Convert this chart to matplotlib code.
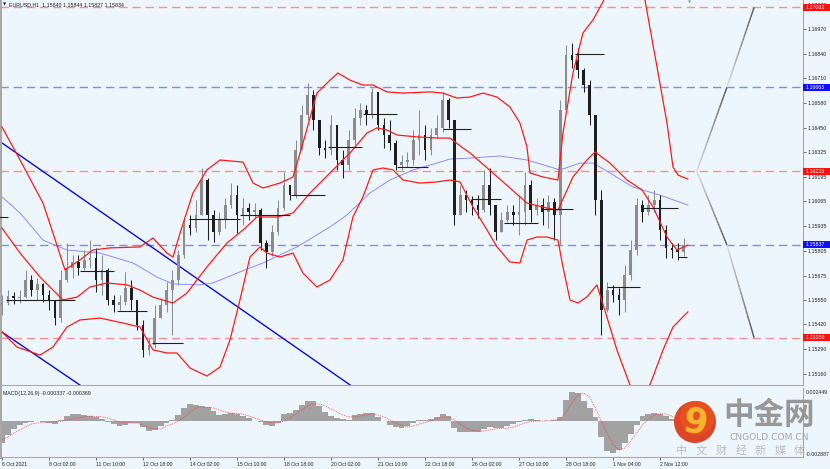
"""
EURUSD H1 chart with Bollinger bands, MA, daily closes and MACD panel
(MT4 style screenshot re-drawn with matplotlib).
"""

import numpy as np
import matplotlib
matplotlib.use("Agg")
import matplotlib.pyplot as plt
from matplotlib.collections import LineCollection
from matplotlib.patches import Circle, Rectangle
from matplotlib.transforms import blended_transform_factory

plt.rcParams["font.family"] = ["Liberation Sans", "DejaVu Sans"]

# ─────────────────────────────────────────────────────────────────────────────
# Data (x = hours since 6 Oct 2021 00:00, one drawn candle = 4 hours)
# ─────────────────────────────────────────────────────────────────────────────

BAR_STEP = 4
OPEN0 = 1.15522

CLOSE = [1.15532, 1.15569, 1.15558, 1.15564, 1.15653, 1.15600, 1.15632, 1.15574, 1.15548, 1.15453,
         1.15653, 1.15716, 1.15747, 1.15716, 1.15758, 1.15768, 1.15653, 1.15705, 1.15548, 1.15522,
         1.15537, 1.15611, 1.15548, 1.15417, 1.15286, 1.15312, 1.15453, 1.15522, 1.15600, 1.15653,
         1.15784, 1.15941, 1.15925, 1.15994, 1.16177, 1.15994, 1.15904, 1.15967, 1.16046, 1.16098,
         1.15994, 1.16030, 1.16009, 1.16020, 1.15847, 1.15800, 1.15904, 1.16030, 1.16151, 1.16098,
         1.16334, 1.16518, 1.16623, 1.16492, 1.16345, 1.16334, 1.16466, 1.16282, 1.16256, 1.16387,
         1.16502, 1.16544, 1.16518, 1.16639, 1.16466, 1.16413, 1.16371, 1.16256, 1.16271, 1.16282,
         1.16387, 1.16413, 1.16334, 1.16413, 1.16450, 1.16597, 1.16492, 1.15994, 1.16098, 1.16072,
         1.16046, 1.16020, 1.16151, 1.16046, 1.15904, 1.15967, 1.16009, 1.15994, 1.16009, 1.16151,
         1.16020, 1.16046, 1.16009, 1.16062, 1.15994, 1.16544, 1.16833, 1.16806, 1.16754, 1.16675,
         1.16518, 1.16072, 1.15495, 1.15600, 1.15574, 1.15548, 1.15679, 1.15810, 1.16046, 1.16009,
         1.16046, 1.16072, 1.15915, 1.15821, 1.15810, 1.15800, 1.15834]

HIGH = [1.15574, 1.15600, 1.15590, 1.15600, 1.15705, 1.15679, 1.15663, 1.15637, 1.15600, 1.15548,
        1.15705, 1.15847, 1.15784, 1.15784, 1.15810, 1.15862, 1.15821, 1.15784, 1.15716, 1.15574,
        1.15574, 1.15695, 1.15653, 1.15522, 1.15443, 1.15349, 1.15522, 1.15558, 1.15642, 1.15705,
        1.15810, 1.15978, 1.15994, 1.16072, 1.16240, 1.16188, 1.16020, 1.16009, 1.16083, 1.16161,
        1.16151, 1.16083, 1.16056, 1.16056, 1.16030, 1.15862, 1.15941, 1.16072, 1.16219, 1.16151,
        1.16387, 1.16570, 1.16686, 1.16649, 1.16466, 1.16387, 1.16518, 1.16466, 1.16334, 1.16439,
        1.16555, 1.16581, 1.16570, 1.16660, 1.16639, 1.16502, 1.16492, 1.16387, 1.16308, 1.16324,
        1.16439, 1.16544, 1.16466, 1.16450, 1.16518, 1.16639, 1.16607, 1.16492, 1.16151, 1.16125,
        1.16093, 1.16098, 1.16230, 1.16240, 1.16046, 1.16009, 1.16046, 1.16046, 1.16098, 1.16219,
        1.16177, 1.16083, 1.16083, 1.16098, 1.16083, 1.16597, 1.16885, 1.16896, 1.16869, 1.16764,
        1.16701, 1.16518, 1.16125, 1.15642, 1.15627, 1.15611, 1.15731, 1.15862, 1.16083, 1.16072,
        1.16098, 1.16125, 1.16098, 1.15941, 1.15847, 1.15847, 1.15873]

LOW = [1.15469, 1.15522, 1.15527, 1.15532, 1.15558, 1.15569, 1.15548, 1.15537, 1.15495, 1.15417,
       1.15432, 1.15642, 1.15663, 1.15679, 1.15705, 1.15716, 1.15590, 1.15574, 1.15522, 1.15485,
       1.15495, 1.15522, 1.15495, 1.15390, 1.15249, 1.15259, 1.15296, 1.15485, 1.15485, 1.15363,
       1.15627, 1.15768, 1.15889, 1.15904, 1.15994, 1.15862, 1.15852, 1.15889, 1.15925, 1.16030,
       1.15899, 1.15941, 1.15967, 1.15978, 1.15810, 1.15716, 1.15779, 1.15889, 1.16020, 1.16072,
       1.16083, 1.16334, 1.16492, 1.16439, 1.16308, 1.16292, 1.16308, 1.16230, 1.16188, 1.16230,
       1.16361, 1.16466, 1.16466, 1.16502, 1.16439, 1.16345, 1.16334, 1.16230, 1.16230, 1.16245,
       1.16256, 1.16308, 1.16282, 1.16308, 1.16397, 1.16429, 1.16450, 1.15941, 1.16046, 1.16009,
       1.15994, 1.15978, 1.16009, 1.15994, 1.15862, 1.15904, 1.15957, 1.15941, 1.15889, 1.15941,
       1.15957, 1.15994, 1.15941, 1.15925, 1.15862, 1.15836, 1.16544, 1.16764, 1.16712, 1.16639,
       1.16466, 1.15994, 1.15363, 1.15485, 1.15537, 1.15469, 1.15485, 1.15653, 1.15784, 1.15957,
       1.15994, 1.16009, 1.15862, 1.15768, 1.15768, 1.15758, 1.15779]

# MACD values in units of 1e-4
MACD_HIST = [-16.8, -10.7, -6.1, -3.1, -1.5, -0.8, 0.0, -0.4, -1.5, -2.3,
             0.8, 3.8, 5.4, 5.4, 4.6, 3.8, 3.1, 1.5, -0.4, -2.3,
             -3.8, -3.1, -1.5, -1.5, -4.6, -7.7, -6.9, -3.8, -1.5, 0.8,
             4.6, 9.9, 13.0, 12.2, 11.5, 10.7, 7.7, 4.6, 5.4, 6.1,
             5.4, 3.8, 2.3, 0.0, -1.1, -2.7, -3.8, -1.5, 5.4, 6.1,
             8.4, 12.2, 15.3, 15.3, 11.5, 6.9, 3.8, 2.3, 1.5, 0.8,
             4.6, 5.4, 6.1, 6.1, 3.1, 0.0, -3.1, -4.6, -5.4, -3.8,
             -1.5, 0.8, 1.1, 1.5, 3.1, 5.4, 3.8, -5.4, -8.4, -8.4,
             -8.4, -8.4, -6.1, -4.6, -5.4, -5.4, -3.8, -2.3, -0.8, 0.8,
             1.5, 0.8, 0.0, 0.0, 0.8, 3.1, 16.1, 22.2, 21.4, 15.3,
             9.9, 3.1, -12.2, -23.0, -24.5, -22.2, -16.8, -9.9, -3.1, 3.8,
             5.4, 6.1, 5.4, 3.8, 1.5, -0.8, -3.4]

MACD_SIGNAL = [-14.5, -12.2, -9.2, -6.9, -4.6, -2.3, -1.5, -1.1, -0.8, -0.8,
               -0.4, 0.8, 1.5, 2.3, 3.1, 3.8, 3.4, 3.1, 2.3, 0.8,
               -0.8, -1.1, -1.5, -1.5, -3.1, -5.0, -6.1, -6.1, -3.8, -2.3,
               0.0, 3.1, 6.9, 9.9, 10.7, 10.3, 9.9, 8.4, 6.9, 6.1,
               5.7, 5.4, 3.8, 2.3, 0.8, -0.8, -1.5, -1.1, 0.0, 2.3,
               5.4, 8.4, 11.5, 13.0, 13.0, 11.5, 9.2, 6.9, 4.6, 3.1,
               3.1, 3.8, 4.6, 5.4, 4.6, 3.1, 0.8, -1.5, -3.4, -4.6,
               -3.8, -2.3, -1.1, 0.0, 1.9, 3.1, 2.7, 0.8, -2.3, -5.4,
               -6.9, -7.7, -7.7, -6.9, -6.1, -5.7, -5.4, -4.6, -3.1, -1.5,
               -0.4, 0.0, 0.0, 0.4, 0.8, 1.1, 6.9, 13.8, 19.9, 21.4,
               18.4, 9.9, 0.0, -9.9, -17.6, -22.2, -20.7, -15.3, -9.2, -3.1,
               1.5, 4.6, 5.4, 5.4, 3.8, 0.8, -2.7]

# Bollinger bands (read as knots along the curves)
UPPER_T = [0, 12.3, 27.9, 34.7, 42.9, 53.1, 61.9, 73.5, 93.9, 102.8, 112.3, 116.4, 121.2, 130.0,
           139.5, 148.4, 164.1, 170.9, 177.7, 189.2, 198.1, 204.9, 214.4, 223.3, 228.7, 236.9,
           245.7, 252.6, 262.1, 273.0, 291.4, 300.2, 309.7, 318.6, 327.4, 337.0, 345.8, 352.6,
           357.4, 359.4, 368.3, 378.5, 381.9, 388.7, 395.5, 402.3, 409.1, 417.3, 427.5, 434.3,
           437.7, 445.9, 452.7, 456.8, 460.2, 466.9]
UPPER_P = [1.16455, 1.16282, 1.16056, 1.15899, 1.15705, 1.15758, 1.15810, 1.15821, 1.15826, 1.15873,
           1.15794, 1.15773, 1.15899, 1.16109, 1.16230, 1.16282, 1.16271, 1.16161, 1.16135, 1.16161,
           1.16193, 1.16371, 1.16633, 1.16701, 1.16738, 1.16701, 1.16675, 1.16675, 1.16639, 1.16633,
           1.16639, 1.16633, 1.16607, 1.16612, 1.16633, 1.16612, 1.16560, 1.16476, 1.16350, 1.16214,
           1.16193, 1.16177, 1.16424, 1.16738, 1.16948, 1.17016, 1.17111, 1.17252, 1.17305, 1.17200,
           1.17121, 1.16770, 1.16476, 1.16245, 1.16203, 1.16182]

MID_T = [0, 12.3, 25.9, 41.5, 51.1, 59.9, 71.5, 85.1, 93.9, 102.8, 116.4, 125.9, 139.5, 153.2,
         164.1, 173.6, 187.2, 198.1, 209.7, 223.3, 236.9, 248.5, 255.3, 262.1, 268.9, 282.5,
         296.1, 305.0, 313.8, 318.6, 334.2, 357.4, 371.0, 378.5, 388.7, 398.2, 403.7, 413.9,
         425.5, 435.7, 443.2, 452.7, 459.5, 466.9]
MID_P = [1.15925, 1.15794, 1.15668, 1.15548, 1.15563, 1.15616, 1.15637, 1.15627, 1.15600, 1.15563,
         1.15532, 1.15584, 1.15721, 1.15847, 1.15915, 1.15983, 1.15983, 1.16004, 1.16109, 1.16214,
         1.16319, 1.16424, 1.16450, 1.16439, 1.16413, 1.16403, 1.16397, 1.16397, 1.16345, 1.16319,
         1.16214, 1.16056, 1.16030, 1.16020, 1.16193, 1.16282, 1.16324, 1.16266, 1.16177, 1.16125,
         1.16036, 1.15878, 1.15810, 1.15836]

LOWER_T = [0, 10.2, 25.9, 34.7, 44.2, 53.1, 66.7, 82.4, 93.9, 102.8, 112.3, 119.1, 128.0, 139.5,
           148.4, 155.2, 162.0, 168.8, 175.6, 180.4, 189.2, 198.1, 204.9, 214.4, 223.3, 232.1,
           238.9, 245.7, 252.6, 259.4, 266.2, 273.0, 284.5, 296.1, 305.0, 311.8, 320.6, 330.2,
           337.0, 345.8, 352.6, 357.4, 364.2, 371.0, 378.5, 381.9, 386.7, 392.1, 398.2, 405.0,
           411.8, 418.6, 427.5, 434.3, 441.1, 450.0, 456.8, 461.5, 466.9]
LOWER_P = [1.15380, 1.15301, 1.15259, 1.15301, 1.15406, 1.15443, 1.15453, 1.15427, 1.15406, 1.15286,
           1.15270, 1.15270, 1.15191, 1.15149, 1.15196, 1.15338, 1.15548, 1.15773, 1.15826, 1.15794,
           1.15773, 1.15794, 1.15689, 1.15616, 1.15653, 1.15758, 1.15983, 1.16088, 1.16230, 1.16240,
           1.16230, 1.16177, 1.16161, 1.16167, 1.16177, 1.16167, 1.16036, 1.15915, 1.15826, 1.15747,
           1.15742, 1.15862, 1.15878, 1.15878, 1.15862, 1.15721, 1.15548, 1.15532, 1.15564, 1.15627,
           1.15459, 1.15286, 1.15102, 1.15065, 1.15102, 1.15286, 1.15406, 1.15443, 1.15485]

# slow moving average (thin blue)
MA_T = [0, 12.3, 27.9, 44.2, 66.7, 89.2, 105.5, 116.4, 134.8, 143.6, 162.0, 177.7, 200.8, 223.3,
        234.9, 250.5, 264.1, 279.8, 296.1, 305.0, 318.6, 339.0, 357.4, 379.9, 393.5, 402.3,
        413.9, 429.5, 447.9, 466.9]
MA_P = [1.16088, 1.16004, 1.15862, 1.15810, 1.15794, 1.15742, 1.15668, 1.15632, 1.15627, 1.15637,
        1.15695, 1.15742, 1.15826, 1.15931, 1.15994, 1.16109, 1.16177, 1.16230, 1.16266, 1.16287,
        1.16292, 1.16303, 1.16282, 1.16230, 1.16266, 1.16266, 1.16214, 1.16140, 1.16098, 1.16046]

# daily close marks (start hour, end hour, price)
DAY_START = [-2, 3, 53, 78, 102, 127, 162, 197, 222, 246, 269, 300, 319, 342, 368, 390, 412, 436, 460]
DAY_END = [4, 50, 76, 99, 123, 162, 196, 220, 245, 269, 290, 319, 340, 365, 389, 410, 434, 460, 466]
DAY_CLOSE = [1.15983, 1.15548, 1.15700, 1.15490, 1.15322, 1.15973, 1.15994, 1.16098, 1.16350,
             1.16523, 1.16245, 1.16444, 1.16077, 1.15952, 1.16025, 1.16838, 1.15616, 1.16030,
             1.15773]

# drawn trend lines
TREND1_T = [-2, 237]
TREND1_P = [1.16382, 1.15102]
TREND2_T = [-2, 53]
TREND2_P = [1.15390, 1.15102]

# projection (gray) lines
PROJ_T = [473, 493.5, 512]
PROJ_UP = [1.16223, 1.16663, 1.17082]
PROJ_DN = [1.16223, 1.15837, 1.15350]

LEVELS = [1.17082, 1.16663, 1.16223, 1.15837, 1.15350]
LEVEL_KIND = ["r", "b", "r", "b", "r"]

PRICE_TICKS = [1.17095, 1.16970, 1.16840, 1.16710, 1.16580, 1.16450, 1.16325, 1.16195,
               1.16065, 1.15935, 1.15805, 1.15675, 1.15550, 1.15420, 1.15290, 1.15160]

TIME_TICKS = [0, 32, 64, 96, 128, 160, 192, 224, 256, 288, 320, 352, 384, 416, 448]
TIME_LABELS = ["6 Oct 2021", "8 Oct 02:00", "11 Oct 10:00", "12 Oct 18:00", "14 Oct 02:00",
               "15 Oct 10:00", "18 Oct 18:00", "20 Oct 02:00", "21 Oct 10:00", "22 Oct 18:00",
               "26 Oct 02:00", "27 Oct 10:00", "28 Oct 18:00", "1 Nov 04:00", "2 Nov 12:00"]

TITLE = "EURUSD,H1  1.15840 1.15844 1.15827 1.15834"
MACD_TITLE = "MACD(12,26,9) -0.000337 -0.000369"

# ─────────────────────────────────────────────────────────────────────────────
# Style
# ─────────────────────────────────────────────────────────────────────────────

W, H = 830, 469
BG = "#eef6fd"
FRAME = "#a8a8a8"
LEVEL_LINE = {"r": "#ff6e6e", "b": "#6262ff"}
LEVEL_BOX = {"r": "#ff1010", "b": "#1010ff"}
XLIM = (-1.36, 545.3)
PRICE_LIM = (1.15102, 1.17121)
MACD_LIM = (-27.5, 25.2)
FS = 3.8


def style_axes(ax):
    ax.set_facecolor(BG)
    for side, sp in ax.spines.items():
        sp.set_color(FRAME)
        sp.set_linewidth(0.8)
    ax.spines["left"].set_linewidth(2.2)
    ax.spines["top"].set_visible(False)
    ax.set_xlim(*XLIM)


def gradient_line(ax, t0, p0, t1, p1, n=24):
    ts = np.linspace(t0, t1, n + 1)
    ps = np.linspace(p0, p1, n + 1)
    segs = [[(ts[i], ps[i]), (ts[i + 1], ps[i + 1])] for i in range(n)]
    shade = np.linspace(0.85, 0.35, n)
    lc = LineCollection(segs, colors=[(s, s, s) for s in shade], linewidths=1.1, zorder=6)
    ax.add_collection(lc)


def draw_price(ax):
    style_axes(ax)
    ax.set_ylim(*PRICE_LIM)

    for lv, kind in zip(LEVELS, LEVEL_KIND):
        ax.axhline(lv, color=LEVEL_LINE[kind], lw=1.0, ls=(0, (6, 3.5)), alpha=0.75, zorder=1)

    for tt, pp in ((TREND1_T, TREND1_P), (TREND2_T, TREND2_P)):
        ax.plot(tt, pp, color="#0a0adc", lw=1.0, zorder=2)

    ax.plot(MA_T, MA_P, color="#8c8cff", lw=0.7, zorder=2)
    for tt, pp in ((UPPER_T, UPPER_P), (MID_T, MID_P), (LOWER_T, LOWER_P)):
        ax.plot(tt, pp, color="#ff1a1a", lw=0.9, zorder=4, solid_joinstyle="round")

    # candles
    close = np.array(CLOSE)
    opens = np.array([OPEN0] + CLOSE[:-1])
    t = np.arange(len(close)) * BAR_STEP
    hi = np.maximum(np.array(HIGH), np.maximum(opens, close))
    lo = np.minimum(np.array(LOW), np.minimum(opens, close))
    up = close >= opens
    cols = np.where(up, "#8c8c8c", "#1e1e1e")
    ax.vlines(t, lo, hi, colors=cols, lw=0.75, zorder=3)
    body = np.maximum(np.abs(close - opens), 0.00003)
    ax.bar(t, body, bottom=np.minimum(opens, close), width=1.8, color=cols,
           edgecolor="none", zorder=3)

    ax.hlines(DAY_CLOSE, DAY_START, DAY_END, colors="#202020", lw=0.8, zorder=5)

    for path in (PROJ_UP, PROJ_DN):
        for i in range(len(PROJ_T) - 1):
            gradient_line(ax, PROJ_T[i], path[i], PROJ_T[i + 1], path[i + 1])

    ax.set_xticks([])
    ax.yaxis.tick_right()
    ax.set_yticks(PRICE_TICKS)
    ax.set_yticklabels([f"{v:.5f}" for v in PRICE_TICKS])
    ax.tick_params(axis="y", length=2, width=0.5, pad=1.5, labelsize=FS,
                   colors="#303030", labelcolor="#202020")

    # coloured level tags on the price scale
    trans = blended_transform_factory(ax.transAxes, ax.transData)
    half = 3.4 * (PRICE_LIM[1] - PRICE_LIM[0]) / 385
    for lv, kind in zip(LEVELS, LEVEL_KIND):
        ax.add_patch(Rectangle((1.0, lv - half), 27 / 803, 2 * half, transform=trans,
                               fc=LEVEL_BOX[kind], ec="none", clip_on=False, zorder=20))
        ax.text(1.0 + 2.5 / 803, lv, f"{lv:.5f}", transform=trans, fontsize=FS,
                color="white", va="center", ha="left", clip_on=False, zorder=21)


def draw_macd(ax):
    style_axes(ax)
    ax.set_ylim(*MACD_LIM)
    t = np.arange(len(MACD_HIST)) * BAR_STEP
    ax.bar(t, MACD_HIST, width=BAR_STEP, color="#a2a2a2", edgecolor="none", zorder=2)
    ax.plot(t, MACD_SIGNAL, color="#ff3a3a", lw=0.6, ls=(0, (1, 1.2)), zorder=3)
    ax.set_yticks([])
    ax.set_xticks(TIME_TICKS)
    ax.set_xticklabels(TIME_LABELS)
    ax.tick_params(axis="x", length=2, width=0.5, pad=1.5, labelsize=FS - 0.1,
                   colors="#303030", labelcolor="#202020")
    for lbl in ax.get_xticklabels():
        lbl.set_ha("left")


def draw_watermark(fig):
    ov = fig.add_axes([0, 0, 1, 1], zorder=50)
    ov.set_xlim(0, W)
    ov.set_ylim(H, 0)
    ov.axis("off")
    ov.patch.set_alpha(0)
    ov.add_patch(Circle((695, 422), 21, fc="#dc3c1c", ec="none", alpha=0.95))
    ov.add_patch(Circle((697, 418), 17, fc="#e8521f", ec="none", alpha=0.9))
    ov.text(695, 423, "9", fontsize=25, fontweight="bold", color="#f8b630",
            ha="center", va="center", family="DejaVu Sans", rotation=-10)
    ov.text(769, 415, "中金网", fontsize=22, fontweight="bold", color="#8e8e8e",
            ha="center", va="center", family=["Noto Sans CJK SC", "DejaVu Sans"], alpha=0.9)
    ov.text(769, 438, "CNGOLD.COM.CN", fontsize=6.6, color="#a0a0a0",
            ha="center", va="center", family="DejaVu Sans", alpha=0.9)
    for i, ch in enumerate("中文财经新媒体"):
        ov.text(682 + 19.6 * i, 451, ch, fontsize=8, color="#b6b6b6", ha="center",
                va="center", family=["Noto Sans CJK SC", "DejaVu Sans"], alpha=0.9)


def main():
    fig = plt.figure(figsize=(W / 100, H / 100), dpi=100)
    fig.patch.set_facecolor(BG)

    ax = fig.add_axes([0, 1 - 385 / H, 803 / W, 385 / H])
    axm = fig.add_axes([0, 1 - 457 / H, 803 / W, (457 - 388) / H])
    draw_price(ax)
    draw_macd(axm)

    fig.text(3 / W, 1 - 4 / H, "▼", fontsize=3, color="#202020", va="center",
             family="DejaVu Sans")
    fig.text(9 / W, 1 - 4.5 / H, TITLE, fontsize=FS, color="#202020", va="center")
    fig.text(690 / W, 1 - 2 / H, "▼", fontsize=3, color="#909090", va="center",
             ha="center", family="DejaVu Sans")
    fig.text(3 / W, 1 - 393 / H, MACD_TITLE, fontsize=FS, color="#202020", va="center")
    fig.text(806 / W, 1 - 392 / H, "0.002449", fontsize=FS, color="#202020", va="center")
    fig.text(806 / W, 1 - 454 / H, "-0.002887", fontsize=FS, color="#202020", va="center")

    draw_watermark(fig)

    fig.savefig("out.png", dpi=100, facecolor=BG)
    plt.close("all")


if __name__ == "__main__":
    main()
